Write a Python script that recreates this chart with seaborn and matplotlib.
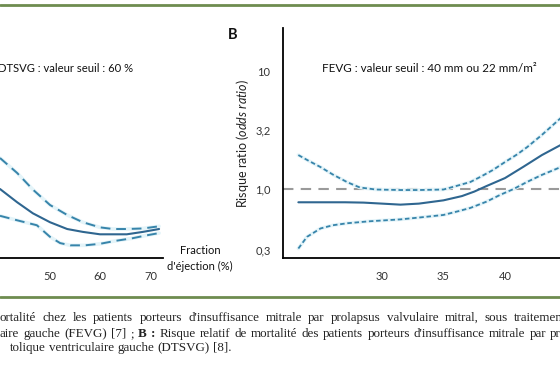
import matplotlib
matplotlib.use("Agg")
import matplotlib.pyplot as plt
from matplotlib.lines import Line2D
import seaborn as sns

# --- données ---
# panneau A (coupé) : risque selon la fraction d'éjection
fe_x = [40.2, 43.6, 46.7, 50.1, 53.5, 56.6, 60.0, 62.6, 65.3, 68.5, 71.7]
fe_rr = [1.0, 0.77, 0.62, 0.52, 0.455, 0.43, 0.41, 0.41, 0.41, 0.43, 0.455]
fe_haut = [1.84, 1.37, 0.99, 0.73, 0.60, 0.52, 0.47, 0.455, 0.455, 0.46, 0.48]
fe_bas_x = [40.2, 43.6, 47.5, 50.1, 52.1, 54.1, 57.0, 60.0, 63.0, 66.5, 69.0, 71.7]
fe_bas = [0.59, 0.54, 0.49, 0.39, 0.345, 0.33, 0.33, 0.34, 0.36, 0.38, 0.40, 0.42]
fe_ticks = [50, 60, 70]

# panneau B : risque selon le diamètre télésystolique
dt_x = [23.2, 25, 27, 28.5, 30, 31.5, 33, 35, 36.5, 37.5, 38.5, 40, 41.5, 43, 44.6]
dt_rr = [0.77, 0.77, 0.77, 0.765, 0.75, 0.735, 0.75, 0.80, 0.87, 0.95, 1.06, 1.24, 1.55, 1.95, 2.4]
dt_haut_x = [23.2, 24, 25, 26, 27.2, 28.2, 29.5, 31.5, 33, 35, 36.3, 37.2, 38, 39, 40, 41, 41.8, 43, 44.6]
dt_haut = [1.95, 1.75, 1.54, 1.33, 1.14, 1.03, 0.99, 0.98, 0.98, 0.99, 1.08, 1.15, 1.27, 1.45, 1.7, 1.98, 2.28, 2.9, 4.1]
dt_bas_x = [23.2, 23.9, 25, 26, 27.2, 29, 31.5, 33, 35, 36.3, 37.2, 38.5, 39.6, 40.7, 41.8, 43, 44.6]
dt_bas = [0.31, 0.39, 0.46, 0.49, 0.51, 0.53, 0.55, 0.57, 0.60, 0.65, 0.69, 0.78, 0.89, 1.0, 1.15, 1.32, 1.55]
dt_ticks = [30, 35, 40, 45]

rr_ticks = [0.3, 1.0, 3.2, 10]
rr_labels = ["0,3", "1,0", "3,2", "10"]

# légende (coupée des deux côtés dans l'original) ; *...* = gras
legende_1 = "ortalité chez les patients porteurs d'insuffisance mitrale par prolapsus valvulaire mitral, sous traitement"
legende_2 = "aire gauche (FEVG) [7] ; *B* *:* Risque relatif de mortalité des patients porteurs d'insuffisance mitrale par pr"
legende_3 = "tolique ventriculaire gauche (DTSVG) [8]."

# --- style ---
sns.set_style("white")
plt.rcParams["font.family"] = ["Lato", "DejaVu Sans"]
plt.rcParams["mathtext.fontset"] = "custom"
plt.rcParams["mathtext.rm"] = "Lato"
plt.rcParams["mathtext.it"] = "Lato:italic"

W, H = 560, 367
fig = plt.figure(figsize=(W / 100, H / 100), dpi=100)


def box(left, top, right, bottom):
    return [left / W, (H - bottom) / H, (right - left) / W, (bottom - top) / H]


def fx(px):
    return px / W


def fy(py):
    return 1 - py / H


bleu = "#2f6690"
bleu_clair = "#3784aa"
halo = "#e4f4f9"
ylim = (10 ** (-69 / 117), 10 ** (161 / 117))

ax_a = fig.add_axes(box(0, 28, 163, 258))
ax_b = fig.add_axes(box(283, 28, 600, 258))

# panneau A
for xs, ys in [(fe_x, fe_haut), (fe_bas_x, fe_bas)]:
    sns.lineplot(x=xs, y=ys, ax=ax_a, color=halo, lw=2.6)
    sns.lineplot(x=xs, y=ys, ax=ax_a, color=bleu_clair, lw=1.4, linestyle=(0, (5, 3)))
sns.lineplot(x=fe_x, y=fe_rr, ax=ax_a, color=bleu, lw=1.5)
ax_a.set_xlim(60 - 100 / 5.05, 60 + 63 / 5.05)
ax_a.set_yscale("log")
ax_a.set_ylim(*ylim)
ax_a.set_yticks([])
ax_a.minorticks_off()
ax_a.set_xticks(fe_ticks)
ax_a.set_xticklabels([str(t) for t in fe_ticks])

# panneau B
ax_b.axhline(1.0, color="#9a9a9a", lw=1.5, linestyle=(0, (5, 3.5)), zorder=1)
for xs, ys in [(dt_haut_x, dt_haut), (dt_bas_x, dt_bas)]:
    sns.lineplot(x=xs, y=ys, ax=ax_b, color=halo, lw=2.6)
    sns.lineplot(x=xs, y=ys, ax=ax_b, color=bleu_clair, lw=1.3, linestyle=(0, (2.5, 1.5)))
sns.lineplot(x=dt_x, y=dt_rr, ax=ax_b, color=bleu, lw=1.5)
ax_b.set_xlim(30 - 99 / 12.3, 30 + 218 / 12.3)
ax_b.set_yscale("log")
ax_b.set_ylim(*ylim)
ax_b.minorticks_off()
ax_b.set_yticks(rr_ticks)
ax_b.set_yticklabels(rr_labels)
ax_b.set_xticks(dt_ticks)
ax_b.set_xticklabels([str(t) for t in dt_ticks])
ax_b.set_ylabel(r"Risque ratio ($\mathit{odds\ ratio}$)", fontsize=9, color="#222", labelpad=3)

for ax in (ax_a, ax_b):
    sns.despine(ax=ax, top=True, right=True)
    ax.spines["bottom"].set_linewidth(1.3)
    ax.spines["bottom"].set_color("black")
    ax.spines["left"].set_linewidth(1.3)
    ax.spines["left"].set_color("black")
    ax.tick_params(direction="out", length=5, width=1, color="black",
                   labelsize=8, labelcolor="#333", pad=4)
    ax.set_xlabel("")
ax_a.spines["left"].set_visible(False)

# textes des panneaux
fig.text(fx(-2), fy(68), "DTSVG : valeur seuil : 60 %", fontsize=8.1, va="center", color="#111")
fig.text(fx(322), fy(68), "FEVG : valeur seuil : 40 mm ou 22 mm/m²", fontsize=8.4, va="center", color="#111")
fig.text(fx(233), fy(35), "B", fontsize=10.5, fontweight="bold", ha="center", va="center", color="#111")
fig.text(fx(200), fy(251), "Fraction", fontsize=8, ha="center", va="center", color="#111")
fig.text(fx(200), fy(266), "d'éjection (%)", fontsize=8, ha="center", va="center", color="#111")

# filets verts
vert = "#6e8c4f"
fig.add_artist(Line2D([0, 1], [fy(5), fy(5)], color=vert, lw=2))
fig.add_artist(Line2D([0, 1], [fy(297), fy(297)], color=vert, lw=2))

# légende justifiée, posée mot par mot
serif = ["Liberation Serif", "DejaVu Serif"]
taille = 9.4
fig.canvas.draw()
renderer = fig.canvas.get_renderer()


def largeur(txt, gras=False):
    t = fig.text(0, 0, txt, fontsize=taille, family=serif, fontweight="bold" if gras else "normal")
    w = t.get_window_extent(renderer).width
    t.remove()
    return w


espace = largeur("x x") - largeur("xx")


def ligne(px, py, txt, fin=None):
    mots = []
    for m in txt.split(" "):
        gras = m.startswith("*") and m.endswith("*")
        mots.append((m.strip("*"), gras))
    extra = 0.0
    if fin is not None:
        naturel = sum(largeur(m, g) for m, g in mots) + espace * (len(mots) - 1)
        extra = (fin - px - naturel) / (len(mots) - 1)
    x = px
    for mot, gras in mots:
        fig.text(fx(x), fy(py), mot, fontsize=taille, family=serif, va="center", color="#222",
                 fontweight="bold" if gras else "normal")
        x += largeur(mot, gras) + espace + extra


ligne(0, 318, legende_1, fin=566)
ligne(0, 334, legende_2, fin=561)
ligne(10, 348, legende_3)

fig.savefig("out.png", dpi=100)
